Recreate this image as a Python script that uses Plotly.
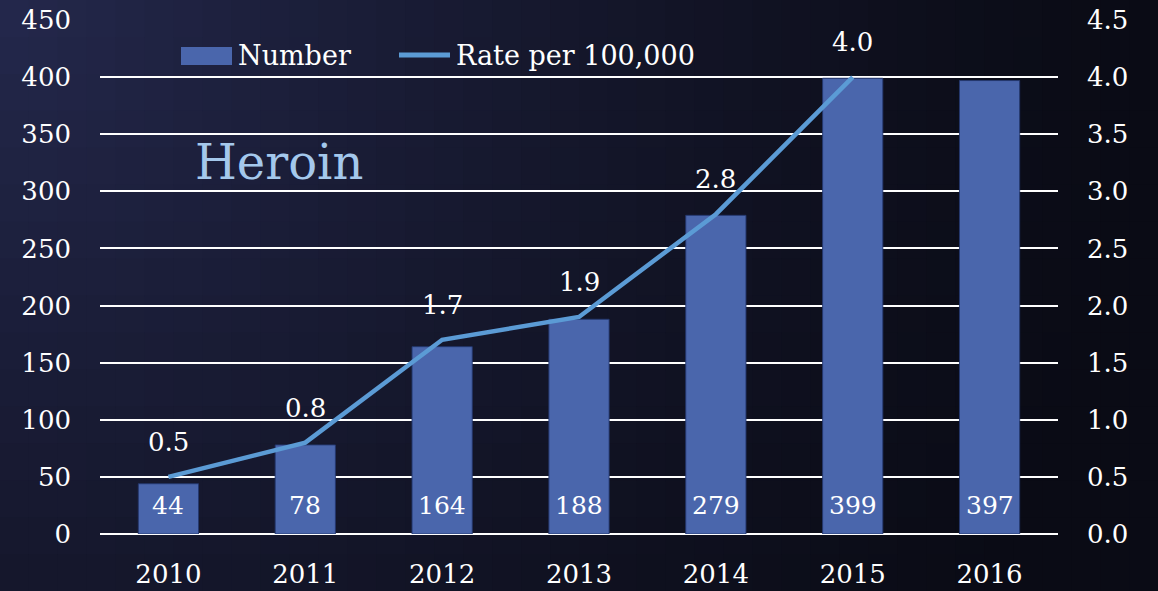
import plotly.graph_objects as go

# Heroin deaths: yearly count (bars) and rate per 100,000 (line)
years = ["2010", "2011", "2012", "2013", "2014", "2015", "2016"]
deaths = [44, 78, 164, 188, 279, 399, 397]
rate_per_100k = [0.5, 0.8, 1.7, 1.9, 2.8, 4.0, None]
left_ticks = [0, 50, 100, 150, 200, 250, 300, 350, 400, 450]
right_ticks = [0.0, 0.5, 1.0, 1.5, 2.0, 2.5, 3.0, 3.5, 4.0, 4.5]

W, H = 1158, 591
ML, MR, MT, MB = 100, 100, 20, 57
PW, PH = W - ML - MR, H - MT - MB

FONT = "DejaVu Serif"
BAR_COLOR = "#4A66AC"
LINE_COLOR = "#5B9BD5"


def px_x(px):
    return (px - ML) / PW


def px_y(py):
    return (H - MB - py) / PH


fig = go.Figure()

fig.add_trace(go.Bar(
    x=years, y=deaths, name="Number",
    marker=dict(color=BAR_COLOR, line=dict(color="rgba(35,55,110,0.9)", width=1)),
    width=0.44, yaxis="y", showlegend=False,
))
fig.add_trace(go.Scatter(
    x=years, y=rate_per_100k, name="Rate per 100,000", mode="lines",
    line=dict(color=LINE_COLOR, width=4.5), yaxis="y2", showlegend=False,
    connectgaps=False,
))

annotations = []
# count labels sitting inside the bottom of each bar (x given as category index)
for i, n in enumerate(deaths):
    annotations.append(dict(
        x=i, y=0, xref="x", yref="y", text=str(n), showarrow=False,
        yanchor="middle", yshift=29,
        font=dict(family=FONT, size=25, color="white"),
    ))
# rate labels above each line point
for i, r in enumerate(rate_per_100k):
    if r is None:
        continue
    annotations.append(dict(
        x=i, y=r, xref="x", yref="y2", text=f"{r:.1f}", showarrow=False,
        yanchor="middle", yshift=35,
        font=dict(family=FONT, size=26, color="white"),
    ))

# title inside the plot
annotations.append(dict(
    x=px_x(193), y=px_y(162), xref="paper", yref="paper", text="Heroin",
    showarrow=False, xanchor="left", yanchor="middle",
    font=dict(family=FONT, size=48, color="#A4C8EC"),
))

# legend drawn by hand
annotations.append(dict(
    x=px_x(236), y=px_y(56), xref="paper", yref="paper", text="Number",
    showarrow=False, xanchor="left", yanchor="middle",
    font=dict(family=FONT, size=27, color="white"),
))
annotations.append(dict(
    x=px_x(454), y=px_y(56), xref="paper", yref="paper", text="Rate per 100,000",
    showarrow=False, xanchor="left", yanchor="middle",
    font=dict(family=FONT, size=27, color="white"),
))

shapes = []
# background: radial-ish gradient, lighter navy top-left to near black at right
light = (36, 40, 76)
dark = (10, 11, 21)
cols, rows = 40, 16
cw, rh = W / cols, H / rows
for i in range(cols):
    for j in range(rows):
        cx = (i + 0.5) * cw / W
        cy = (j + 0.5) * rh / H
        d = (cx ** 2 + (cy * 0.5) ** 2) ** 0.5
        f = max(0.0, 1.0 - d / 1.0) ** 1.3
        c = tuple(int(round(dk + (lt - dk) * f)) for lt, dk in zip(light, dark))
        shapes.append(dict(
            type="rect", xref="paper", yref="paper", layer="below",
            x0=px_x(i * cw), x1=px_x((i + 1) * cw + 1),
            y0=px_y((j + 1) * rh + 1), y1=px_y(j * rh),
            fillcolor=f"rgb{c}", line=dict(width=0),
        ))

# legend swatches
shapes.append(dict(
    type="rect", xref="paper", yref="paper",
    x0=px_x(181), x1=px_x(232), y0=px_y(65), y1=px_y(47),
    fillcolor=BAR_COLOR, line=dict(width=0),
))
shapes.append(dict(
    type="line", xref="paper", yref="paper",
    x0=px_x(399), x1=px_x(450), y0=px_y(55), y1=px_y(55),
    line=dict(color=LINE_COLOR, width=5),
))

fig.update_layout(
    width=W, height=H,
    margin=dict(l=ML, r=MR, t=MT, b=MB, pad=0, autoexpand=False),
    paper_bgcolor="rgb(16,18,34)",
    plot_bgcolor="rgba(0,0,0,0)",
    showlegend=False,
    annotations=annotations,
    shapes=shapes,
    xaxis=dict(
        type="category", range=[-0.5, len(years) - 0.5], autorange=False,
        showgrid=False, showline=False, zeroline=False, automargin=False,
        ticks="", ticklabelstandoff=22,
        tickfont=dict(family=FONT, size=26, color="white"),
    ),
    yaxis=dict(
        range=[0, 450], autorange=False, tickvals=left_ticks, showgrid=True,
        gridcolor="white", gridwidth=1.6, zeroline=True, zerolinecolor="white",
        zerolinewidth=1.6, showline=False, ticks="", ticklabelstandoff=28,
        automargin=False,
        tickfont=dict(family=FONT, size=26, color="white"),
    ),
    yaxis2=dict(
        range=[0, 4.5], autorange=False, tickvals=right_ticks, tickformat=".1f",
        overlaying="y", side="right", showgrid=False, zeroline=False,
        showline=False, ticks="", ticklabelstandoff=28, automargin=False,
        tickfont=dict(family=FONT, size=26, color="white"),
    ),
)

fig.write_html("out.html")
